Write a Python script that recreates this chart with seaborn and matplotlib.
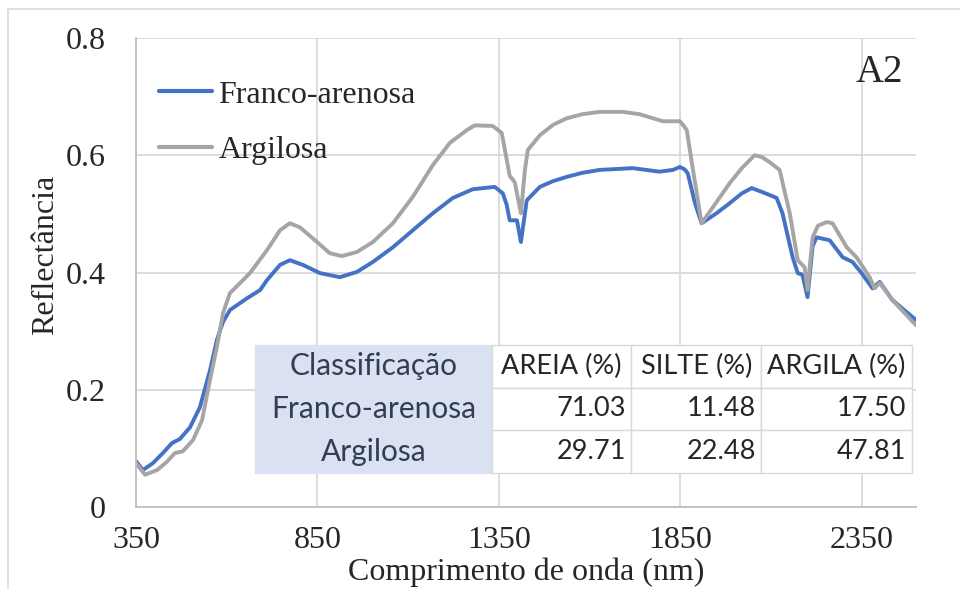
import matplotlib
matplotlib.use("Agg")
import matplotlib.pyplot as plt
import seaborn as sns
import pandas as pd
from matplotlib.patches import Rectangle

sns.set_style("white")
plt.rcParams['font.family'] = ['Liberation Serif', 'DejaVu Serif']

# Spectra (wavelength in nm, reflectance)
wl_fa = [350, 369, 397, 424, 449, 471, 499, 526, 554, 573, 590, 609, 656, 692, 711, 747, 774,
         810, 857, 912, 959, 1003, 1058, 1113, 1168, 1223, 1278, 1339, 1361, 1372, 1380, 1400,
         1411, 1427, 1463, 1500, 1537, 1580, 1628, 1719, 1793, 1830, 1849, 1862, 1871, 1890,
         1909, 1950, 1986, 2020, 2047, 2077, 2105, 2116, 2132, 2160, 2174, 2187, 2201, 2215,
         2226, 2262, 2298, 2325, 2350, 2380, 2400, 2435, 2500]
refl_fa = [0.078, 0.063, 0.075, 0.092, 0.109, 0.116, 0.136, 0.170, 0.233, 0.285, 0.316, 0.336,
           0.356, 0.370, 0.387, 0.413, 0.421, 0.413, 0.399, 0.392, 0.401, 0.418, 0.443, 0.472,
           0.501, 0.527, 0.542, 0.546, 0.535, 0.515, 0.489, 0.489, 0.452, 0.523, 0.546, 0.556,
           0.563, 0.570, 0.575, 0.578, 0.572, 0.575, 0.580, 0.576, 0.569, 0.520, 0.484, 0.501,
           0.518, 0.535, 0.544, 0.537, 0.530, 0.527, 0.501, 0.426, 0.399, 0.396, 0.358, 0.445,
           0.460, 0.455, 0.426, 0.418, 0.399, 0.373, 0.384, 0.353, 0.319]

wl_ar = [350, 375, 408, 435, 457, 479, 507, 532, 554, 573, 590, 609, 645, 664, 711, 747, 774,
         802, 849, 884, 917, 959, 1003, 1058, 1113, 1168, 1215, 1262, 1284, 1333, 1358, 1372,
         1380, 1394, 1411, 1422, 1430, 1463, 1500, 1537, 1580, 1628, 1692, 1738, 1802, 1849,
         1860, 1868, 1884, 1909, 1950, 1986, 2020, 2055, 2075, 2097, 2124, 2152, 2174, 2193,
         2201, 2215, 2230, 2254, 2270, 2309, 2336, 2372, 2386, 2400, 2435, 2500]
refl_ar = [0.075, 0.055, 0.063, 0.077, 0.092, 0.095, 0.114, 0.148, 0.217, 0.273, 0.331, 0.365,
           0.387, 0.399, 0.438, 0.472, 0.484, 0.477, 0.452, 0.433, 0.428, 0.435, 0.452, 0.484,
           0.529, 0.583, 0.621, 0.643, 0.651, 0.650, 0.638, 0.592, 0.565, 0.554, 0.501, 0.575,
           0.609, 0.634, 0.652, 0.663, 0.670, 0.674, 0.674, 0.670, 0.658, 0.658, 0.650, 0.643,
           0.580, 0.484, 0.520, 0.552, 0.578, 0.600, 0.597, 0.588, 0.575, 0.501, 0.421, 0.409,
           0.370, 0.460, 0.480, 0.486, 0.484, 0.443, 0.426, 0.392, 0.373, 0.382, 0.353, 0.310]

series_names = ["Franco-arenosa", "Argilosa"]
series_colors = ["#4472C4", "#A5A5A5"]

# Texture table
table_header = ["Classificação", "AREIA (%)", "SILTE (%)", "ARGILA (%)"]
table_rows = ["Franco-arenosa", "Argilosa"]
areia = ["71.03", "29.71"]
silte = ["11.48", "22.48"]
argila = ["17.50", "47.81"]

x_ticks = [350, 850, 1350, 1850, 2350]
y_ticks = [0, 0.2, 0.4, 0.6, 0.8]
y_ticklabels = ["0", "0.2", "0.4", "0.6", "0.8"]

df = pd.concat([
    pd.DataFrame({"wl": wl_fa, "refl": refl_fa, "solo": series_names[0]}),
    pd.DataFrame({"wl": wl_ar, "refl": refl_ar, "solo": series_names[1]}),
])

fig = plt.figure(figsize=(9.6, 5.89), dpi=100)
ax = fig.add_axes([136/960, 82/589, 780/960, 469/589])

sns.lineplot(data=df, x="wl", y="refl", hue="solo", hue_order=series_names,
             palette=series_colors, estimator=None, linewidth=2.8, ax=ax)

ax.set_xlim(350, 2500)
ax.set_ylim(0, 0.8)
ax.set_xticks(x_ticks)
ax.set_xticklabels([str(t) for t in x_ticks])
ax.set_yticks(y_ticks)
ax.set_yticklabels(y_ticklabels)
ax.tick_params(axis='both', length=0, labelsize=23)
ax.tick_params(axis='y', pad=22)
ax.tick_params(axis='x', pad=14)
ax.grid(True, color="#D9D9D9", linewidth=1.3)
for s in ["top", "right"]:
    ax.spines[s].set_visible(False)
for s in ["left", "bottom"]:
    ax.spines[s].set_color("#BFBFBF")
    ax.spines[s].set_linewidth(1.3)

ax.set_xlabel("Comprimento de onda (nm)", fontsize=23)
ax.set_ylabel("Reflectância", fontsize=23)
ax.xaxis.set_label_coords(0.5, -0.107)
ax.yaxis.set_label_coords(-0.097, 0.537)

leg = ax.legend(loc="upper left", bbox_to_anchor=(0.03, 0.91), frameon=False,
                fontsize=23, handlelength=1.65, handletextpad=0.2, labelspacing=0.82,
                borderaxespad=0, borderpad=0)
for line in leg.get_lines():
    line.set_linewidth(3.0)

ax.text(0.922, 0.906, "A2", transform=ax.transAxes, fontsize=28, va="baseline", ha="left")

# table
cell_text = [table_header] + [[table_rows[i], areia[i], silte[i], argila[i]] for i in range(2)]
col_w = [237, 140, 130, 151]
col_w = [w / sum(col_w) for w in col_w]
tb = ax.table(cellText=cell_text, colWidths=col_w, cellLoc="center",
              bbox=[(255-136)/780, (507-473)/469, (912-255)/780, (473-345)/469])
tb.auto_set_font_size(False)
tb.set_zorder(5)
for (r, c), cell in tb.get_celld().items():
    txt = cell.get_text()
    txt.set_fontfamily("Lato")
    txt.set_fontsize(21.5 if c == 0 else 19.5)
    txt.set_color("#262626")
    cell.set_linewidth(1.0)
    if c == 0:
        cell.set_facecolor("#D9E1F2")
        cell.set_edgecolor("#D9E1F2")
        txt.set_color("#333F50")
    else:
        cell.set_facecolor("white")
        cell.set_edgecolor("#D9D9D9")
        if r > 0:
            cell._loc = "right"
            cell.PAD = 0.04
            txt.set_horizontalalignment("right")

# chart border
fig.patches.append(Rectangle((8/960, -0.05), 1.2, (589-8.5)/589 + 0.05,
                             transform=fig.transFigure, fill=False,
                             edgecolor="#D9D9D9", linewidth=1.2))

fig.savefig("out.png", dpi=100)
